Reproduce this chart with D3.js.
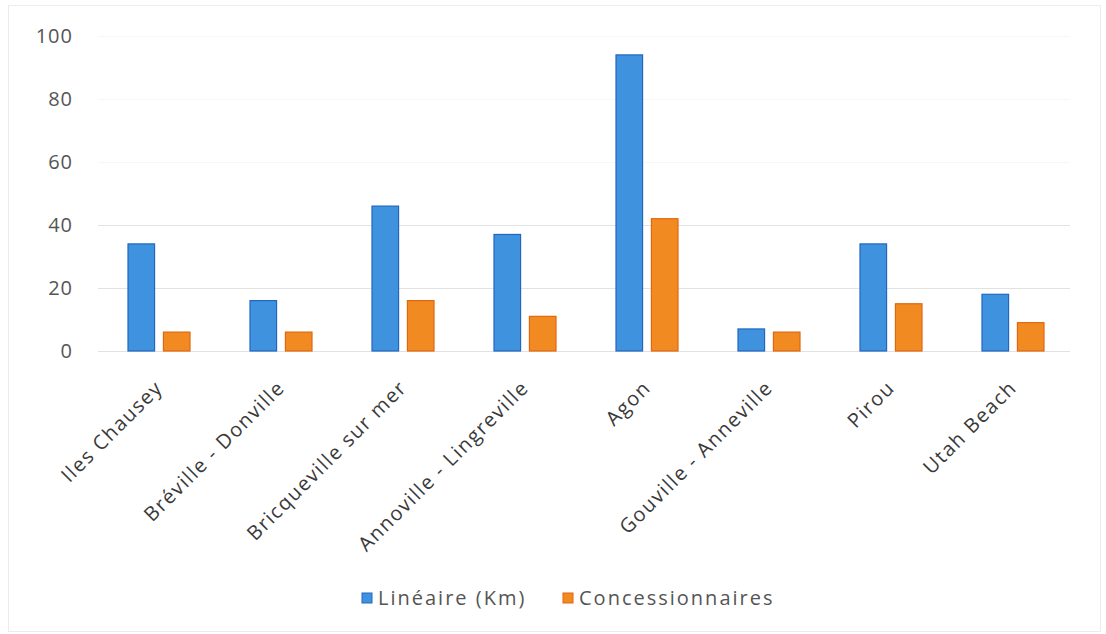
<!DOCTYPE html>
<html>
<head>
<meta charset="utf-8">
<script src="https://cdn.jsdelivr.net/npm/d3@7"></script>
<style>
  html, body { margin: 0; padding: 0; background: #ffffff; }
  svg { display: block; }
  text { font-family: "Open Sans", "Liberation Sans", sans-serif; }
</style>
</head>
<body>
<svg id="chart" width="1106" height="634"></svg>
<script>
// Plages et concessions par secteur
const categories = [
  "Iles Chausey",
  "Bréville - Donville",
  "Bricqueville sur mer",
  "Annoville - Lingreville",
  "Agon",
  "Gouville - Anneville",
  "Pirou",
  "Utah Beach"
];
const lineaireKm = [34, 16, 46, 37, 94, 7, 34, 18];
const concessionnaires = [6, 6, 16, 11, 42, 6, 15, 9];
const seriesNames = ["Linéaire (Km)", "Concessionnaires"];
const yTicks = [0, 20, 40, 60, 80, 100];

const seriesValues = [lineaireKm, concessionnaires];
const fills = ["#3f93de", "#f28a22"];
const strokes = ["#2266c2", "#e0670f"];

const svg = d3.select("#chart");

// light frame around the chart area
svg.append("rect")
  .attr("x", 8.5).attr("y", 5.5)
  .attr("width", 1092).attr("height", 626)
  .attr("fill", "none")
  .attr("stroke", "#ececec")
  .attr("stroke-width", 1);

const x = d3.scaleBand().domain(categories).range([98, 1074]).padding(0);
const xs = d3.scaleBand().domain(seriesNames).range([30, 92]).paddingInner(0.25);
const y = d3.scaleLinear().domain([0, 100]).range([351, 36]);

// gridlines
svg.append("g")
  .selectAll("line")
  .data(yTicks)
  .join("line")
  .attr("x1", 98).attr("x2", 1070)
  .attr("y1", d => Math.round(y(d)) + 0.5)
  .attr("y2", d => Math.round(y(d)) + 0.5)
  .attr("stroke", d => d <= 40 ? "#e2e2e2" : "#f7f7f7")
  .attr("stroke-width", 1);

// y axis labels
const yAxis = d3.axisLeft(y).tickValues(yTicks).tickSize(0).tickPadding(0);
const gy = svg.append("g").attr("transform", "translate(73,0)").call(yAxis);
gy.select(".domain").remove();
gy.selectAll("text")
  .attr("font-size", 20)
  .attr("letter-spacing", 1)
  .attr("fill", "#555555")
  .attr("font-family", "Open Sans, sans-serif");

// bars
const rows = categories.map((c, i) => ({ cat: c, vals: seriesValues.map(s => s[i]) }));
const groups = svg.append("g")
  .selectAll("g")
  .data(rows)
  .join("g")
  .attr("transform", d => `translate(${x(d.cat)},0)`);

groups.selectAll("rect")
  .data(d => d.vals.map((v, k) => ({ v, k })))
  .join("rect")
  .attr("x", d => xs(seriesNames[d.k]))
  .attr("y", d => y(d.v))
  .attr("width", xs.bandwidth())
  .attr("height", d => y(0) - y(d.v))
  .attr("fill", d => fills[d.k])
  .attr("stroke", d => strokes[d.k])
  .attr("stroke-width", 1.2);

// category labels, rotated
const xAxis = d3.axisBottom(x).tickSize(0).tickPadding(0);
const gx = svg.append("g").attr("transform", "translate(0,389)").call(xAxis);
gx.select(".domain").remove();
gx.selectAll("text")
  .attr("font-size", 20)
  .attr("letter-spacing", 1.5)
  .attr("fill", "#3a3a3a")
  .attr("text-anchor", "end")
  .attr("dy", 0)
  .attr("y", 0)
  .attr("transform", "translate(5,0) rotate(-45)");

// legend
const legendItems = [
  { name: seriesNames[0], x: 362 },
  { name: seriesNames[1], x: 563 }
];
const lg = svg.append("g")
  .selectAll("g")
  .data(legendItems)
  .join("g")
  .attr("transform", d => `translate(${d.x},598)`);
lg.append("rect")
  .attr("x", 0).attr("y", -5)
  .attr("width", 10).attr("height", 10)
  .attr("fill", (d, i) => fills[i])
  .attr("stroke", (d, i) => strokes[i]);
lg.append("text")
  .attr("x", 16)
  .attr("dy", "0.35em")
  .attr("font-size", 20)
  .attr("letter-spacing", 2)
  .attr("fill", "#555555")
  .text(d => d.name);
</script>
</body>
</html>
